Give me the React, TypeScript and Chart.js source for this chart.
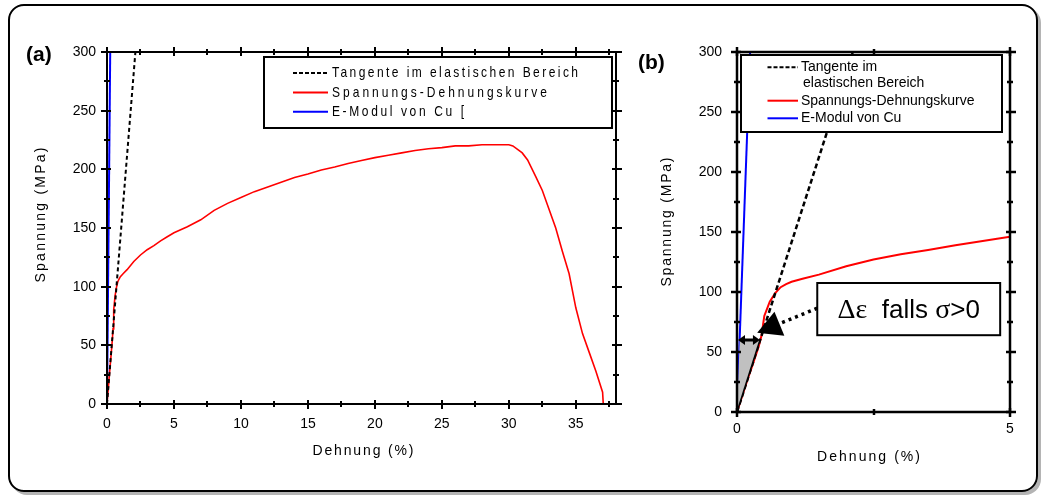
import React, { useEffect, useRef } from "react";
import { Chart, registerables } from "chart.js";

Chart.register(...registerables);

const FONT = '"Liberation Sans", Arial, Helvetica, sans-serif';
const SERIF = '"Liberation Serif", "Times New Roman", serif';

// ---------------- data ----------------
const strainPct = [0, 0.1, 0.2, 0.3, 0.4, 0.45, 0.5, 0.55, 0.6, 0.7, 0.8, 0.9, 1.0, 1.2, 1.5, 2, 2.5, 3, 3.5, 4, 4.5, 5, 6, 7, 8, 9, 10, 11, 12, 13, 14, 15, 16, 17, 18, 19, 20, 21, 22, 23, 24, 25, 26, 27, 28, 29, 30, 30.3, 31, 31.4, 32, 32.5, 33, 33.5, 34, 34.5, 35, 35.5, 36, 36.5, 37, 37.05];
const stressMPa = [0, 14, 28, 41, 55, 64, 80, 86, 92, 99, 104, 106.5, 108.5, 111, 114.5, 121.5, 127, 131.5, 135, 139, 142.5, 146, 151, 157, 165, 171, 176, 181, 185, 189, 193, 196, 199.5, 202, 205, 207.5, 210, 212, 214, 216, 217.5, 218.5, 220, 220, 221, 221, 221, 220, 214, 208, 194, 182, 166, 150, 130, 111, 82, 60, 44, 28, 10, 0];
const tangentStrain = [0, 2.12];
const tangentStress = [0, 300];
const modulusStrain = [0, 0.24];
const modulusStress = [0, 300];

const seriesColors = ["#000000", "#ff0000", "#0000ff"];
const panelLabels = ["(a)", "(b)"];
const xTicksA = [0, 5, 10, 15, 20, 25, 30, 35];
const xTicksB = [0, 5];
const yTicks = [0, 50, 100, 150, 200, 250, 300];
const xTitle = "Dehnung (%)";
const yTitle = "Spannung (MPa)";
const legendLabelsA = [["Tangente im elastischen Bereich"], ["Spannungs-Dehnungskurve"], ["E-Modul von Cu ["]];
const legendLabelsB = [["Tangente im", "elastischen Bereich"], ["Spannungs-Dehnungskurve"], ["E-Modul von Cu"]];

// Δε annotation (panel b), in data units
const gapStress = 60;
const gapStrain = [0.05, 0.42];
const arrowTip = [0.37, 66];
const arrowTail = [1.47, 86.5];
const noteBoxX = [1.47, 4.82];
const noteBoxY = [64, 107.5];
const noteParts = [
  { t: "Δε", serif: true },
  { t: "  falls ", serif: false },
  { t: "σ", serif: true },
  { t: ">0", serif: false },
];

// ---------------- helpers ----------------
const toPts = (xs: number[], ys: number[]) => xs.map((x, i) => ({ x, y: ys[i] }));

function buildDatasets(labels: string[][], widths: number[], dash: number[]) {
  return [
    { label: labels[0].join(" "), data: toPts(tangentStrain, tangentStress), borderColor: seriesColors[0], borderWidth: widths[0], borderDash: dash },
    { label: labels[1].join(" "), data: toPts(strainPct, stressMPa), borderColor: seriesColors[1], borderWidth: widths[1] },
    { label: labels[2].join(" "), data: toPts(modulusStrain, modulusStress), borderColor: seriesColors[2], borderWidth: widths[2] },
  ].map((d) => ({ ...d, showLine: true, pointRadius: 0, fill: false, tension: 0 }));
}

function fitText(ctx: CanvasRenderingContext2D, text: string, left: number, y: number, target: number | null, sx = 1) {
  (ctx as any).letterSpacing = "0px";
  const w = ctx.measureText(text).width * sx;
  const n = Array.from(text).length;
  const sp = target && n > 1 ? (target - w) / (n - 1) : 0;
  ctx.save();
  ctx.translate(left, y);
  ctx.scale(sx, 1);
  (ctx as any).letterSpacing = `${sp / sx}px`;
  ctx.textAlign = "left";
  ctx.fillText(text, 0, 0);
  ctx.restore();
  (ctx as any).letterSpacing = "0px";
}

function line(ctx: CanvasRenderingContext2D, x0: number, y0: number, x1: number, y1: number) {
  ctx.beginPath();
  ctx.moveTo(x0, y0);
  ctx.lineTo(x1, y1);
  ctx.stroke();
}

type Spec = {
  canvasW: number;
  padding: { left: number; top: number; right: number; bottom: number };
  xMax: number;
  xTicks: number[];
  xMinor: number;
  xMajor: number;
  yMinor: number;
  yMajor: number;
  yTickPad: number;
  xTickPad: number;
  frameW: number;
  tickW: number;
  lineWidths: number[];
  dash: number[];
  xTitlePos: number[];
  yTitlePos: number[];
  legend: { box: number[]; sample: number[]; textX: number; rowY: number[]; lineGap: number; indent: number; fitW: number[] | null; sx: number; size: number; dash: number[] };
  legendLabels: string[][];
  note: boolean;
};

function decorPlugin(p: Spec) {
  return {
    id: "decor",
    afterDraw(chart: any) {
      const { ctx, chartArea: a, scales } = chart;
      const xs = scales.x, ys = scales.y;
      const X = (v: number) => xs.getPixelForValue(v);
      const Y = (v: number) => ys.getPixelForValue(v);
      ctx.save();
      ctx.strokeStyle = "#000";
      ctx.fillStyle = "#000";
      ctx.lineCap = "butt";

      // ----- Δε annotation -----
      if (p.note) {
        ctx.beginPath();
        ctx.moveTo(X(0), Y(0));
        ctx.lineTo(X(gapStrain[0]), Y(gapStress));
        ctx.lineTo(X(gapStrain[1]), Y(gapStress));
        ctx.closePath();
        ctx.fillStyle = "#c0c0c0";
        ctx.fill();
        ctx.fillStyle = "#000";
        ctx.lineWidth = 1.5;
        line(ctx, X(0), Y(0), X(gapStrain[1]), Y(gapStress));
        // double arrow
        const ay = Y(gapStress);
        const ax0 = X(0) + 1, ax1 = X(gapStrain[1]);
        ctx.lineWidth = 3;
        line(ctx, ax0 + 4, ay, ax1 - 4, ay);
        const head = (tx: number, dir: number) => {
          ctx.beginPath();
          ctx.moveTo(tx, ay);
          ctx.lineTo(tx + dir * 7, ay - 5);
          ctx.lineTo(tx + dir * 7, ay + 5);
          ctx.closePath();
          ctx.fill();
        };
        head(ax0, 1);
        head(ax1, -1);
        // dotted arrow to curve
        const tx = X(arrowTip[0]), ty = Y(arrowTip[1]);
        const sx = X(arrowTail[0]), sy = Y(arrowTail[1]);
        const dx = tx - sx, dy = ty - sy, len = Math.hypot(dx, dy);
        const ux = dx / len, uy = dy / len;
        const hl = 24, hw = 13;
        const bx = tx - ux * hl, by = ty - uy * hl;
        ctx.lineWidth = 3.5;
        ctx.setLineDash([3, 4]);
        line(ctx, sx, sy, bx, by);
        ctx.setLineDash([]);
        ctx.beginPath();
        ctx.moveTo(tx, ty);
        ctx.lineTo(bx - uy * hw, by + ux * hw);
        ctx.lineTo(bx + uy * hw, by - ux * hw);
        ctx.closePath();
        ctx.fill();
        // note box
        const l = X(noteBoxX[0]), r = X(noteBoxX[1]), t = Y(noteBoxY[1]), b = Y(noteBoxY[0]);
        ctx.fillStyle = "#fff";
        ctx.fillRect(l, t, r - l, b - t);
        ctx.fillStyle = "#000";
        ctx.lineWidth = 2;
        ctx.strokeRect(l, t, r - l, b - t);
        const fontOf = (serif: boolean) => `${serif ? 28 : 26}px ${serif ? SERIF : FONT}`;
        let total = 0;
        for (const part of noteParts) {
          ctx.font = fontOf(part.serif);
          total += ctx.measureText(part.t).width;
        }
        let cx = (l + r) / 2 - total / 2;
        const cy = (t + b) / 2 + 9;
        ctx.textBaseline = "alphabetic";
        ctx.textAlign = "left";
        for (const part of noteParts) {
          ctx.font = fontOf(part.serif);
          ctx.fillText(part.t, cx, cy);
          cx += ctx.measureText(part.t).width;
        }
      }

      // ----- legend -----
      const L = p.legend;
      const [bl, bt, br, bb] = L.box;
      ctx.fillStyle = "#fff";
      ctx.fillRect(bl, bt, br - bl, bb - bt);
      ctx.fillStyle = "#000";
      ctx.lineWidth = 2;
      ctx.strokeRect(bl, bt, br - bl, bb - bt);
      ctx.font = `${L.size}px ${FONT}`;
      ctx.textBaseline = "middle";
      p.legendLabels.forEach((rows, i) => {
        const y = L.rowY[i];
        ctx.strokeStyle = seriesColors[i];
        ctx.lineWidth = 2;
        ctx.setLineDash(i === 0 ? L.dash : []);
        line(ctx, L.sample[0], y, L.sample[1], y);
        ctx.setLineDash([]);
        rows.forEach((txt, j) => {
          fitText(ctx, txt, L.textX + (j > 0 ? L.indent : 0), y + j * L.lineGap, L.fitW ? L.fitW[i] : null, L.sx);
        });
      });
      ctx.strokeStyle = "#000";

      // ----- frame -----
      ctx.lineWidth = p.frameW;
      ctx.strokeRect(a.left, a.top, a.right - a.left, a.bottom - a.top);

      // ----- ticks -----
      ctx.lineWidth = p.tickW;
      const isMajor = (v: number, m: number) => Math.abs(v / m - Math.round(v / m)) < 1e-6;
      for (let v = 0; v <= ys.max + 1e-9; v += p.yMinor) {
        const py = Math.round(Y(v));
        const mj = isMajor(v, p.yMajor);
        const out = mj ? 6 : 3, inn = mj ? 4 : 3;
        line(ctx, a.left - out, py, a.left + inn, py);
        line(ctx, a.right - inn, py, a.right + out, py);
      }
      for (let v = 0; v <= xs.max + 1e-9; v += p.xMinor) {
        const px = Math.round(X(v));
        const mj = isMajor(v, p.xMajor);
        const out = mj ? 5 : 3, inn = mj ? 4 : 3;
        line(ctx, px, a.bottom - inn, px, a.bottom + out);
        line(ctx, px, a.top - out, px, a.top + inn);
      }

      // ----- axis titles -----
      ctx.fillStyle = "#000";
      ctx.font = `14px ${FONT}`;
      ctx.textBaseline = "middle";
      const [xtx, xty, xtw] = p.xTitlePos;
      fitText(ctx, xTitle, xtx - xtw / 2, xty, xtw, 1);
      const [ytx, yty, ytw] = p.yTitlePos;
      ctx.save();
      ctx.translate(ytx, yty);
      ctx.rotate(-Math.PI / 2);
      fitText(ctx, yTitle, -ytw / 2, 0, ytw, 1);
      ctx.restore();

      ctx.restore();
    },
  };
}

function buildConfig(p: Spec): any {
  return {
    type: "scatter",
    data: { datasets: buildDatasets(p.legendLabels, p.lineWidths, p.dash) },
    options: {
      animation: false,
      responsive: false,
      events: [],
      layout: { padding: p.padding },
      plugins: { legend: { display: false }, tooltip: { enabled: false } },
      scales: {
        x: {
          type: "linear",
          min: 0,
          max: p.xMax,
          afterFit: (s: any) => {
            s.height = 40;
          },
          afterBuildTicks: (s: any) => {
            s.ticks = p.xTicks.map((v) => ({ value: v }));
          },
          grid: { display: false, drawTicks: false },
          border: { display: false },
          ticks: { padding: p.xTickPad, color: "#000", font: { family: FONT, size: 14 }, maxRotation: 0, autoSkip: false },
        },
        y: {
          type: "linear",
          min: 0,
          max: 300,
          afterFit: (s: any) => {
            s.width = 50;
          },
          afterBuildTicks: (s: any) => {
            s.ticks = yTicks.map((v) => ({ value: v }));
          },
          grid: { display: false, drawTicks: false },
          border: { display: false },
          ticks: { padding: p.yTickPad, color: "#000", font: { family: FONT, size: 14 }, autoSkip: false },
        },
      },
    },
    plugins: [decorPlugin(p)],
  };
}

const specA: Spec = {
  canvasW: 632,
  padding: { left: 57, top: 52, right: 16, bottom: 51 },
  xMax: 38,
  xTicks: xTicksA,
  xMinor: 2.5,
  xMajor: 5,
  yMinor: 25,
  yMajor: 50,
  yTickPad: 11,
  xTickPad: 12,
  frameW: 2,
  tickW: 2,
  lineWidths: [2, 1.6, 2],
  dash: [4, 3],
  xTitlePos: [363, 451, 101],
  yTitlePos: [41, 215, 135],
  legend: { box: [264, 57, 612, 128], sample: [293, 328], textX: 332, rowY: [73, 92.5, 111.7], lineGap: 0, indent: 0, fitW: [246, 215, 132], sx: 0.8, size: 15, dash: [4, 2] },
  legendLabels: legendLabelsA,
  note: false,
};

const specB: Spec = {
  canvasW: 409,
  padding: { left: 55, top: 52, right: 31, bottom: 43 },
  xMax: 5,
  xTicks: xTicksB,
  xMinor: 2.5,
  xMajor: 5,
  yMinor: 25,
  yMajor: 50,
  yTickPad: 15,
  xTickPad: 9,
  frameW: 2.5,
  tickW: 2.5,
  lineWidths: [2.5, 2, 2],
  dash: [5, 3],
  xTitlePos: [236.5, 456.7, 103],
  yTitlePos: [35, 222, 129],
  legend: { box: [109, 55, 370, 132], sample: [135.5, 166], textX: 169, rowY: [67.3, 100.7, 118.3], lineGap: 16, indent: 2, fitW: null, sx: 1, size: 14, dash: [4, 2] },
  legendLabels: legendLabelsB,
  note: true,
};

function Panel({ left, spec }: { left: number; spec: Spec }) {
  const ref = useRef<HTMLCanvasElement>(null);
  useEffect(() => {
    const chart = new Chart(ref.current as HTMLCanvasElement, buildConfig(spec));
    return () => chart.destroy();
  }, []);
  return (
    <div style={{ position: "absolute", left, top: 0, width: spec.canvasW, height: 495 }}>
      <canvas ref={ref} width={spec.canvasW} height={495} style={{ display: "block", width: spec.canvasW, height: 495 }} />
    </div>
  );
}

export default function App() {
  const labelStyle: React.CSSProperties = {
    position: "absolute",
    fontFamily: FONT,
    fontWeight: "bold",
    fontSize: 21,
    lineHeight: "21px",
    color: "#000",
  };
  return (
    <div style={{ position: "absolute", left: 0, top: 0, width: 1041, height: 495, background: "#fff", overflow: "hidden" }}>
      <div
        style={{
          position: "absolute",
          left: 8,
          top: 4,
          width: 1030,
          height: 488,
          border: "2px solid #000",
          borderRadius: 16,
          boxSizing: "border-box",
          boxShadow: "3px 3px 0 #b4b4b4",
        }}
      />
      <Panel left={0} spec={specA} />
      <Panel left={632} spec={specB} />
      <div style={{ ...labelStyle, left: 26, top: 43 }}>{panelLabels[0]}</div>
      <div style={{ ...labelStyle, left: 638, top: 51 }}>{panelLabels[1]}</div>
    </div>
  );
}
